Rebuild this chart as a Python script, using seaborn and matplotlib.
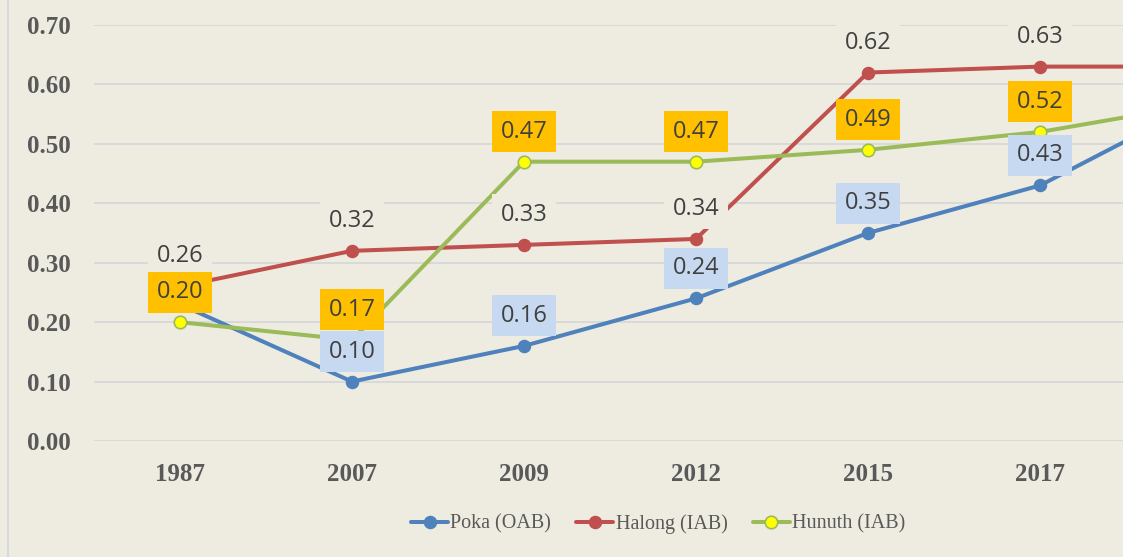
import numpy as np
import pandas as pd
import matplotlib
matplotlib.use("Agg")
import matplotlib.pyplot as plt
from matplotlib.lines import Line2D
import seaborn as sns

# ---- data -------------------------------------------------------------
years = ["1987", "2007", "2009", "2012", "2015", "2017", "2019"]
poka = [0.23, 0.10, 0.16, 0.24, 0.35, 0.43, 0.58]
halong = [0.26, 0.32, 0.33, 0.34, 0.62, 0.63, 0.63]
hunuth = [0.20, 0.17, 0.47, 0.47, 0.49, 0.52, 0.57]
series_names = ["Poka (OAB)", "Halong (IAB)", "Hunuth (IAB)"]
y_ticks = [0.0, 0.1, 0.2, 0.3, 0.4, 0.5, 0.6, 0.7]

# ---- style ------------------------------------------------------------
BG = "#EEECE1"
GRID = "#D9D9D9"
TICK_C = "#595959"
LABEL_C = "#404040"

sns.set_theme(style="white")
plt.rcParams["font.family"] = ["Liberation Serif", "DejaVu Serif"]

W, H = 1123, 557
fig = plt.figure(figsize=(W / 100, H / 100), dpi=100, facecolor=BG)
ax = fig.add_axes([94 / W, 1 - 441 / H, 1 - 94 / W, (441 - 25) / H])
ax.set_facecolor(BG)

pos = np.arange(len(years))
df = pd.DataFrame({"pos": pos, "Poka": poka, "Halong": halong, "Hunuth": hunuth})

styles = [
    dict(col="Poka", color="#4F81BD", mfc="#4F81BD", mec="#4F81BD", ms=8.5,
         box="#C6D9F1"),
    dict(col="Halong", color="#C0504D", mfc="#C0504D", mec="#C0504D", ms=8.5,
         box=BG),
    dict(col="Hunuth", color="#9BBB59", mfc="#FFFF00", mec="#9BBB59", ms=9.0,
         box="#FFC000"),
]

handles = []
for name, st in zip(series_names, styles):
    sns.lineplot(data=df, x="pos", y=st["col"], ax=ax, sort=False,
                 color=st["color"], linewidth=2.9, marker="o",
                 markersize=st["ms"], markerfacecolor=st["mfc"],
                 markeredgecolor=st["mec"], markeredgewidth=1.2,
                 zorder=3, legend=False)
    handles.append(Line2D([], [], color=st["color"], linewidth=2.9, marker="o",
                          markersize=st["ms"], markerfacecolor=st["mfc"],
                          markeredgecolor=st["mec"], markeredgewidth=1.2,
                          label=name))

# ---- axes -------------------------------------------------------------
ax.set_xticks(pos)
ax.set_xticklabels(years)
ax.set_yticks(y_ticks)
ax.set_yticklabels([f"{t:.2f}" for t in y_ticks])
ax.set_xlim(-0.5, -0.5 + (W - 94) / 172)
ax.set_ylim(0, 0.70)
for lab in ax.get_xticklabels() + ax.get_yticklabels():
    lab.set_fontweight("bold")
    lab.set_fontsize(18)
    lab.set_color(TICK_C)
ax.tick_params(axis="y", length=0, pad=17)
ax.tick_params(axis="x", length=0, pad=16)
ax.set_xlabel("")
ax.set_ylabel("")
ax.grid(axis="y", color=GRID, linewidth=1.4, zorder=0)
ax.grid(axis="x", visible=False)
ax.set_axisbelow(True)
for s in ax.spines.values():
    s.set_visible(False)

# data labels, each series stacked above the previous one
for k, st in enumerate(styles):
    for x, v in zip(pos, df[st["col"]]):
        ax.annotate(f"{v:.2f}", xy=(x, v), xytext=(0, 30),
                    textcoords="offset pixels", ha="center", va="center",
                    fontsize=17, color=LABEL_C,
                    family=["Open Sans", "DejaVu Sans"],
                    bbox=dict(boxstyle="square,pad=0.36", fc=st["box"],
                              ec="none"),
                    annotation_clip=True, zorder=10 + k)

# chart-area border on the left
fig.add_artist(Line2D([8 / W, 8 / W], [0, 1], color=GRID, linewidth=1.5,
                      transform=fig.transFigure))

leg = fig.legend(handles=handles, loc="center",
                 bbox_to_anchor=(658 / W, 1 - 524 / H), ncol=3, frameon=False,
                 fontsize=14.5, handlelength=1.85, handletextpad=0.1,
                 columnspacing=1.25)
for t in leg.get_texts():
    t.set_color(TICK_C)

fig.savefig("out.png", dpi=100, facecolor=BG)
